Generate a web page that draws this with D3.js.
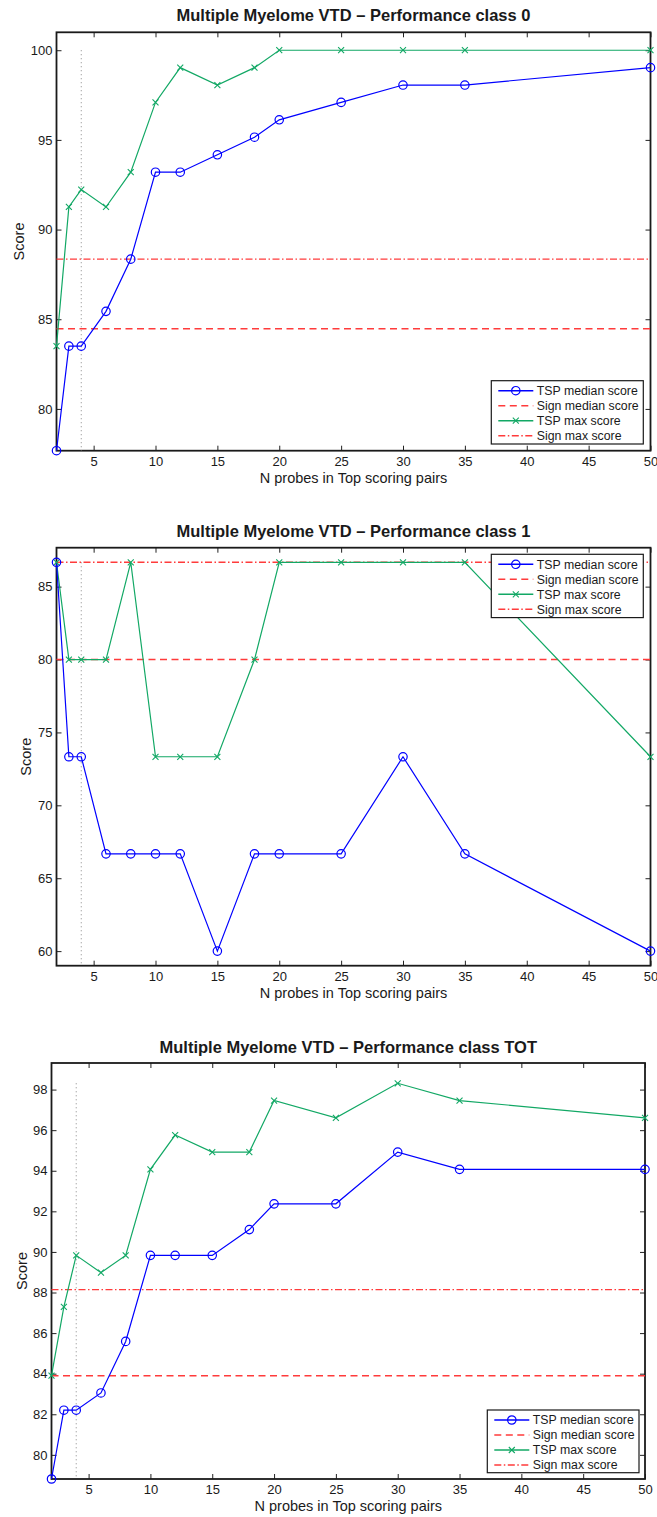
<!DOCTYPE html>
<html>
<head>
<meta charset="utf-8">
<script src="https://cdn.jsdelivr.net/npm/d3@7"></script>
<style>
body { margin: 0; background: #fff; }
text { font-family: "Liberation Sans", Arial, Helvetica, sans-serif; fill: #1a1a1a; }
</style>
</head>
<body>
<script>
// x values shared by all three panels
var nProbes = [2, 3, 4, 6, 8, 10, 12, 15, 18, 20, 25, 30, 35, 50];
var xTicks = [5, 10, 15, 20, 25, 30, 35, 40, 45, 50];
var cutoffProbes = 4;

// class 0
var tspMedian0 = [77.67, 83.50, 83.50, 85.44, 88.35, 93.20, 93.20, 94.17, 95.15, 96.12, 97.09, 98.06, 98.06, 99.03];
var tspMax0 = [83.50, 91.26, 92.23, 91.26, 93.20, 97.09, 99.03, 98.06, 99.03, 100, 100, 100, 100, 100];
var signMedian0 = 84.47;
var signMax0 = 88.35;
var yTicks0 = [80, 85, 90, 95, 100];

// class 1
var tspMedian1 = [86.67, 73.33, 73.33, 66.67, 66.67, 66.67, 66.67, 60.00, 66.67, 66.67, 66.67, 73.33, 66.67, 60.00];
var tspMax1 = [86.67, 80.00, 80.00, 80.00, 86.67, 73.33, 73.33, 73.33, 80.00, 86.67, 86.67, 86.67, 86.67, 73.33];
var signMedian1 = 80.00;
var signMax1 = 86.67;
var yTicks1 = [60, 65, 70, 75, 80, 85];

// class TOT
var tspMedianTot = [78.81, 82.20, 82.20, 83.05, 85.59, 89.83, 89.83, 89.83, 91.10, 92.37, 92.37, 94.92, 94.07, 94.07];
var tspMaxTot = [83.90, 87.29, 89.83, 88.98, 89.83, 94.07, 95.76, 94.92, 94.92, 97.46, 96.61, 98.31, 97.46, 96.61];
var signMedianTot = 83.90;
var signMaxTot = 88.14;
var yTicksTot = [80, 82, 84, 86, 88, 90, 92, 94, 96, 98];

var legendLabels = ['TSP median score', 'Sign median score', 'TSP max score', 'Sign max score'];

var width = 657,
	height = 1517;

var blue = '#0000ff',
	green = '#12a865',
	red = '#ff3b3b';

var svg = d3.select('body')
	.append('svg')
	.attr('width', width)
	.attr('height', height);

// one entry per subplot, layout only
var panels = [
	{ title: 'Multiple Myelome VTD \u2013 Performance class 0', median: tspMedian0, max: tspMax0,
	  signMedian: signMedian0, signMax: signMax0, yTicks: yTicks0, yDomain: [77.67, 101.0],
	  left: 56.5, right: 650.5, top: 32.3, bottom: 450.7, titleY: 21, xLabelY: 483, yLabelX: 19,
	  legend: { x: 491.3, y: 380.7, w: 152, h: 63.3 } },
	{ title: 'Multiple Myelome VTD \u2013 Performance class 1', median: tspMedian1, max: tspMax1,
	  signMedian: signMedian1, signMax: signMax1, yTicks: yTicks1, yDomain: [59.0, 87.67],
	  left: 56.5, right: 650.5, top: 547.7, bottom: 965.7, titleY: 537, xLabelY: 997.5, yLabelX: 26,
	  legend: { x: 491.3, y: 554.3, w: 152, h: 63.3 } },
	{ title: 'Multiple Myelome VTD \u2013 Performance class TOT', median: tspMedianTot, max: tspMaxTot,
	  signMedian: signMedianTot, signMax: signMaxTot, yTicks: yTicksTot, yDomain: [78.81, 99.31],
	  left: 51.5, right: 645, top: 1063, bottom: 1479, titleY: 1053, xLabelY: 1511, yLabelX: 21.5,
	  legend: { x: 487.3, y: 1410, w: 151.7, h: 62.7 } }
];

panels.forEach(drawPanel);

function drawPanel(p) {
	var x = d3.scaleLinear().domain([2, 50]).range([p.left, p.right]);
	var y = d3.scaleLinear().domain(p.yDomain).range([p.bottom, p.top]);
	var g = svg.append('g');

	// axes, ticks pointing inwards like matlab
	var tickSize = -5;
	g.append('g')
		.attr('transform', 'translate(0,' + p.bottom + ')')
		.call(d3.axisBottom(x).tickValues(xTicks).tickSize(tickSize).tickSizeOuter(0).tickPadding(6));
	g.append('g')
		.attr('transform', 'translate(0,' + p.top + ')')
		.call(d3.axisTop(x).tickValues(xTicks).tickSize(tickSize).tickSizeOuter(0).tickFormat(''));
	g.append('g')
		.attr('transform', 'translate(' + p.left + ',0)')
		.call(d3.axisLeft(y).tickValues(p.yTicks).tickSize(tickSize).tickSizeOuter(0).tickPadding(4));
	g.append('g')
		.attr('transform', 'translate(' + p.right + ',0)')
		.call(d3.axisRight(y).tickValues(p.yTicks).tickSize(tickSize).tickSizeOuter(0).tickFormat(''));

	g.selectAll('.domain').remove();
	g.selectAll('.tick line').attr('stroke', '#222').attr('stroke-width', 1);
	g.selectAll('.tick text').attr('font-size', 13).style('font-family', '"Liberation Sans", Arial, sans-serif').attr('fill', '#1a1a1a');

	// box
	g.append('rect')
		.attr('x', p.left)
		.attr('y', p.top)
		.attr('width', p.right - p.left)
		.attr('height', p.bottom - p.top)
		.attr('fill', 'none')
		.attr('stroke', '#1a1a1a')
		.attr('stroke-width', 1.8);

	// title and labels
	g.append('text')
		.attr('x', (p.left + p.right) / 2)
		.attr('y', p.titleY)
		.attr('text-anchor', 'middle')
		.attr('font-size', 16.5)
		.attr('font-weight', 'bold')
		.text(p.title);
	g.append('text')
		.attr('x', (p.left + p.right) / 2)
		.attr('y', p.xLabelY)
		.attr('text-anchor', 'middle')
		.attr('font-size', 14.5)
		.text('N probes in Top scoring pairs');
	g.append('text')
		.attr('transform', 'translate(' + p.yLabelX + ',' + (p.top + p.bottom) / 2 + ') rotate(-90)')
		.attr('text-anchor', 'middle')
		.attr('dy', '0.35em')
		.attr('font-size', 14.5)
		.text('Score');

	// dotted vertical line at the chosen number of probes
	var yMaxData = d3.max(p.max.concat(p.median));
	g.append('line')
		.attr('x1', x(cutoffProbes)).attr('x2', x(cutoffProbes))
		.attr('y1', y(yMaxData)).attr('y2', p.bottom)
		.attr('stroke', '#888')
		.attr('stroke-width', 1)
		.attr('stroke-dasharray', '1,3');

	// sign reference lines
	g.append('line')
		.attr('x1', p.left).attr('x2', p.right)
		.attr('y1', y(p.signMedian)).attr('y2', y(p.signMedian))
		.attr('stroke', red).attr('stroke-width', 1.6)
		.attr('stroke-dasharray', '7,4.5');
	g.append('line')
		.attr('x1', p.left).attr('x2', p.right)
		.attr('y1', y(p.signMax)).attr('y2', y(p.signMax))
		.attr('stroke', red).attr('stroke-width', 1.4)
		.attr('stroke-dasharray', '7,2.5,1.5,2.5');

	var line = d3.line()
		.x(function(d) { return x(d[0]); })
		.y(function(d) { return y(d[1]); });

	var medianPts = d3.zip(nProbes, p.median);
	var maxPts = d3.zip(nProbes, p.max);

	g.append('path')
		.datum(maxPts)
		.attr('d', line)
		.attr('fill', 'none')
		.attr('stroke', green)
		.attr('stroke-width', 1.2);
	g.append('path')
		.datum(medianPts)
		.attr('d', line)
		.attr('fill', 'none')
		.attr('stroke', blue)
		.attr('stroke-width', 1.2);

	// markers
	g.append('g').selectAll('path')
		.data(maxPts)
		.enter().append('path')
		.attr('d', crossPath)
		.attr('transform', function(d) { return 'translate(' + x(d[0]) + ',' + y(d[1]) + ')'; })
		.attr('stroke', green)
		.attr('stroke-width', 1.1)
		.attr('fill', 'none');
	g.append('g').selectAll('circle')
		.data(medianPts)
		.enter().append('circle')
		.attr('cx', function(d) { return x(d[0]); })
		.attr('cy', function(d) { return y(d[1]); })
		.attr('r', 4.2)
		.attr('fill', 'none')
		.attr('stroke', blue)
		.attr('stroke-width', 1.2);

	drawLegend(g, p.legend);
}

function crossPath() {
	var s = 3;
	return 'M' + (-s) + ',' + (-s) + 'L' + s + ',' + s + 'M' + (-s) + ',' + s + 'L' + s + ',' + (-s);
}

function drawLegend(g, box) {
	var lg = g.append('g').attr('transform', 'translate(' + box.x + ',' + box.y + ')');
	lg.append('rect')
		.attr('width', box.w)
		.attr('height', box.h)
		.attr('fill', '#fff')
		.attr('stroke', '#1a1a1a')
		.attr('stroke-width', 1.2);

	var styles = [
		{ color: blue, dash: null, marker: 'circle' },
		{ color: red, dash: '7,4.5', marker: null },
		{ color: green, dash: null, marker: 'cross' },
		{ color: red, dash: '7,2.5,1.5,2.5', marker: null }
	];
	var rowH = 15,
		firstRow = 10,
		x0 = 7,
		x1 = 42;

	var rows = lg.selectAll('g.row')
		.data(legendLabels)
		.enter().append('g')
		.attr('class', 'row')
		.attr('transform', function(d, i) { return 'translate(0,' + (firstRow + i * rowH) + ')'; });

	rows.append('line')
		.attr('x1', x0).attr('x2', x1)
		.attr('stroke', function(d, i) { return styles[i].color; })
		.attr('stroke-width', 1.4)
		.attr('stroke-dasharray', function(d, i) { return styles[i].dash; });

	rows.each(function(d, i) {
		var r = d3.select(this);
		if (styles[i].marker === 'circle') {
			r.append('circle').attr('cx', (x0 + x1) / 2).attr('r', 4.2)
				.attr('fill', 'none').attr('stroke', blue).attr('stroke-width', 1.2);
		} else if (styles[i].marker === 'cross') {
			r.append('path').attr('d', crossPath)
				.attr('transform', 'translate(' + (x0 + x1) / 2 + ',0)')
				.attr('stroke', green).attr('stroke-width', 1.1);
		}
	});

	rows.append('text')
		.attr('x', x1 + 3.5)
		.attr('dy', '0.36em')
		.attr('font-size', 12.3)
		.text(function(d) { return d; });
}
</script>
</body>
</html>
